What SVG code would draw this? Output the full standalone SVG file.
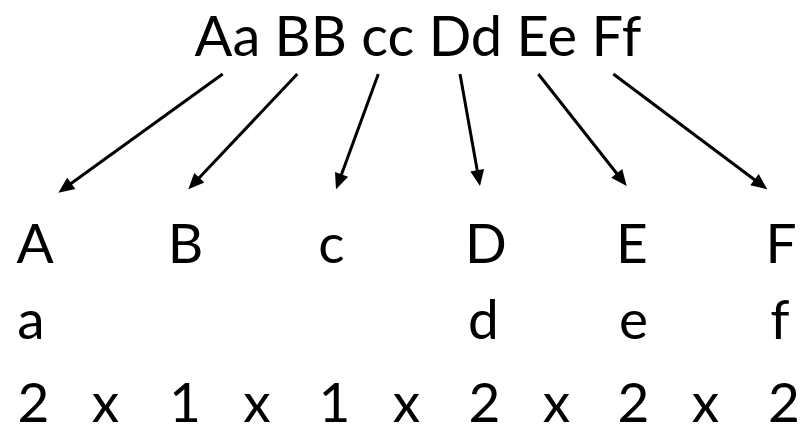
<svg xmlns="http://www.w3.org/2000/svg" width="803" height="434" viewBox="0 0 803 434">
  <style>
    text { font-family: Lato, "Open Sans", sans-serif; font-size: 55px; fill: #000; text-anchor: middle; }
    #source text { font-size: 56px; }
    .arrow { stroke: #000; stroke-width: 3; fill: none; marker-end: url(#head); }
  </style>
  <defs>
    <marker id="head" markerUnits="userSpaceOnUse" markerWidth="16" markerHeight="14" refX="8" refY="7" orient="auto" overflow="visible">
      <path d="M0,0 L16,7 L0,14 z" fill="#000"/>
    </marker>
  </defs>
  <rect width="803" height="434" fill="#fff"/>

  <!-- source word -->
  <g id="source">
    <text x="418" y="56">Aa BB cc Dd Ee Ff</text>
  </g>

  <!-- connectors from each pair to its column -->
  <g id="connectors">
    <line class="arrow" x1="222.7" y1="74" x2="64.8" y2="188"/>
    <line class="arrow" x1="297.3" y1="74" x2="193.8" y2="183.5"/>
    <line class="arrow" x1="378.3" y1="74" x2="338.8" y2="181.8"/>
    <line class="arrow" x1="460" y1="74" x2="478.6" y2="178.1"/>
    <line class="arrow" x1="538.3" y1="74" x2="621.7" y2="179.7"/>
    <line class="arrow" x1="613.3" y1="74" x2="760.9" y2="184.5"/>
  </g>

  <!-- columns -->
  <g id="col-a">
    <text x="35" y="263">A</text>
    <text x="31" y="339">a</text>
  </g>
  <g id="col-b">
    <text x="185.5" y="263">B</text>
  </g>
  <g id="col-c">
    <text x="331.5" y="263">c</text>
  </g>
  <g id="col-d">
    <text x="486" y="263">D</text>
    <text x="483.5" y="339">d</text>
  </g>
  <g id="col-e">
    <text x="632" y="263">E</text>
    <text x="633.5" y="339">e</text>
  </g>
  <g id="col-f">
    <text x="781" y="263">F</text>
    <text x="780" y="339">f</text>
  </g>

  <!-- product row -->
  <g id="product">
    <text x="33.5" y="422">2</text>
    <text x="105.5" y="422">x</text>
    <text x="185" y="422">1</text>
    <text x="257" y="422">x</text>
    <text x="334.5" y="422">1</text>
    <text x="406.5" y="422">x</text>
    <text x="484.5" y="422">2</text>
    <text x="556.5" y="422">x</text>
    <text x="633.5" y="422">2</text>
    <text x="705.5" y="422">x</text>
    <text x="784" y="422">2</text>
  </g>
</svg>
